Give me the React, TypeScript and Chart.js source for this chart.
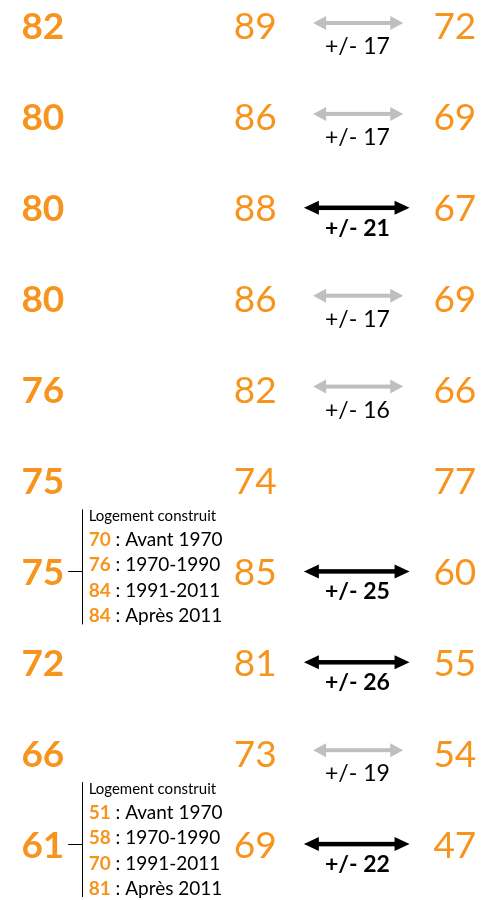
import { useEffect, useRef } from "react";
import { Chart, registerables } from "chart.js";

Chart.register(...registerables);

// ---- data ----
const overall = [82, 80, 80, 80, 76, 75, 75, 72, 66, 61];
const highGroup = [89, 86, 88, 86, 82, 74, 85, 81, 73, 69];
const lowGroup = [72, 69, 67, 69, 66, 77, 60, 55, 54, 47];
const gaps: (number | null)[] = [17, 17, 21, 17, 16, null, 25, 26, 19, 22];
const significant = [false, false, true, false, false, false, true, true, false, true];
const breakdownRows = [6, 9];
const breakdownValues = [
  [70, 76, 84, 84],
  [51, 58, 70, 81],
];
const periodLabels = ["Avant 1970", "1970-1990", "1991-2011", "Après 2011"];
const breakdownTitle = "Logement construit";

// ---- layout / style ----
const ORANGE = "#F7941D";
const GREY = "#BFBFBF";
const FONT = "Lato, 'Open Sans', sans-serif";
const COL = {
  overall: 8.8,
  high: 52.4,
  low: 93.4,
  label: 73.4,
  greyFrom: 64.3,
  greyTo: 82.8,
  blackFrom: 62.4,
  blackTo: 84.1,
  bracket: 16.85,
  tick: 14.0,
  text: 18.2,
};

const rowsPlugin = {
  id: "rowsText",
  afterDraw(chart: any) {
    const ctx = chart.ctx as CanvasRenderingContext2D;
    const xs = chart.scales.x;
    const ys = chart.scales.y;
    ctx.save();

    const drawNums = (dsIndex: number, values: number[], weight: string) => {
      const meta = chart.getDatasetMeta(dsIndex);
      ctx.font = `${weight} 37px ${FONT}`;
      ctx.fillStyle = ORANGE;
      ctx.textAlign = "center";
      ctx.textBaseline = "alphabetic";
      meta.data.forEach((el: any, i: number) => {
        ctx.fillText(String(values[i]), el.x, el.y + 13.5);
      });
    };
    drawNums(0, overall, "bold");
    drawNums(1, highGroup, "normal");
    drawNums(2, lowGroup, "normal");

    // arrows + gap labels
    gaps.forEach((g, i) => {
      if (g === null) return;
      const y = ys.getPixelForValue(i);
      const sig = significant[i];
      const x1 = xs.getPixelForValue(sig ? COL.blackFrom : COL.greyFrom);
      const x2 = xs.getPixelForValue(sig ? COL.blackTo : COL.greyTo);
      const ay = y + (sig ? 0 : -3);
      const col = sig ? "#000000" : GREY;
      const head = sig ? 15 : 13;
      const half = 7;
      const th = sig ? 4.5 : 4;
      ctx.fillStyle = col;
      ctx.fillRect(x1 + head - 1, ay - th / 2, x2 - x1 - 2 * head + 2, th);
      ctx.beginPath();
      ctx.moveTo(x1, ay);
      ctx.lineTo(x1 + head, ay - half);
      ctx.lineTo(x1 + head, ay + half);
      ctx.closePath();
      ctx.fill();
      ctx.beginPath();
      ctx.moveTo(x2, ay);
      ctx.lineTo(x2 - head, ay - half);
      ctx.lineTo(x2 - head, ay + half);
      ctx.closePath();
      ctx.fill();

      ctx.fillStyle = "#000000";
      ctx.font = `${sig ? "bold" : "normal"} 23px ${FONT}`;
      ctx.textAlign = "center";
      ctx.fillText(`+/- ${g}`, xs.getPixelForValue(COL.label), y + 28);
    });

    // breakdown blocks
    breakdownRows.forEach((row, k) => {
      const y = ys.getPixelForValue(row);
      const bx = Math.round(xs.getPixelForValue(COL.bracket)) + 0.5;
      const tx = xs.getPixelForValue(COL.tick);
      const textX = xs.getPixelForValue(COL.text);
      ctx.strokeStyle = "#000000";
      ctx.lineWidth = 1;
      ctx.beginPath();
      ctx.moveTo(bx, y - 62);
      ctx.lineTo(bx, y + 53);
      ctx.moveTo(tx, Math.round(y) + 0.5);
      ctx.lineTo(bx, Math.round(y) + 0.5);
      ctx.stroke();

      ctx.textAlign = "left";
      ctx.fillStyle = "#000000";
      ctx.font = `normal 15px ${FONT}`;
      ctx.fillText(breakdownTitle, textX, y - 50);

      breakdownValues[k].forEach((v, j) => {
        const by = y - 25.5 + j * 25.5;
        ctx.font = `bold 19px ${FONT}`;
        ctx.fillStyle = ORANGE;
        const s = String(v);
        ctx.fillText(s, textX, by);
        const w = ctx.measureText(s).width;
        ctx.font = `normal 19px ${FONT}`;
        ctx.fillStyle = "#000000";
        ctx.fillText(` : ${periodLabels[j]}`, textX + w, by);
      });
    });

    ctx.restore();
  },
};

export default function App() {
  const ref = useRef<HTMLCanvasElement | null>(null);

  useEffect(() => {
    document.body.style.margin = "0";
    const canvas = ref.current;
    if (!canvas) return;
    const rows = overall.map((_, i) => i);
    const chart = new Chart(canvas, {
      type: "scatter",
      data: {
        datasets: [
          { label: "overall", data: rows.map((i) => ({ x: COL.overall, y: i })), pointRadius: 0 },
          { label: "high", data: rows.map((i) => ({ x: COL.high, y: i })), pointRadius: 0 },
          { label: "low", data: rows.map((i) => ({ x: COL.low, y: i })), pointRadius: 0 },
        ],
      },
      options: {
        responsive: false,
        animation: false,
        devicePixelRatio: 1,
        layout: { padding: 0 },
        plugins: { legend: { display: false }, tooltip: { enabled: false } },
        events: [],
        scales: {
          x: { type: "linear", min: 0, max: 100, display: false },
          y: { type: "linear", min: -0.286, max: 9.615, reverse: true, display: false },
        },
      },
      plugins: [rowsPlugin],
    });
    if ((document as any).fonts && (document as any).fonts.ready) {
      (document as any).fonts.ready.then(() => chart.update());
    }
    return () => chart.destroy();
  }, []);

  return (
    <div style={{ width: 487, height: 900 }}>
      <canvas ref={ref} width={487} height={900} style={{ display: "block" }} />
    </div>
  );
}
